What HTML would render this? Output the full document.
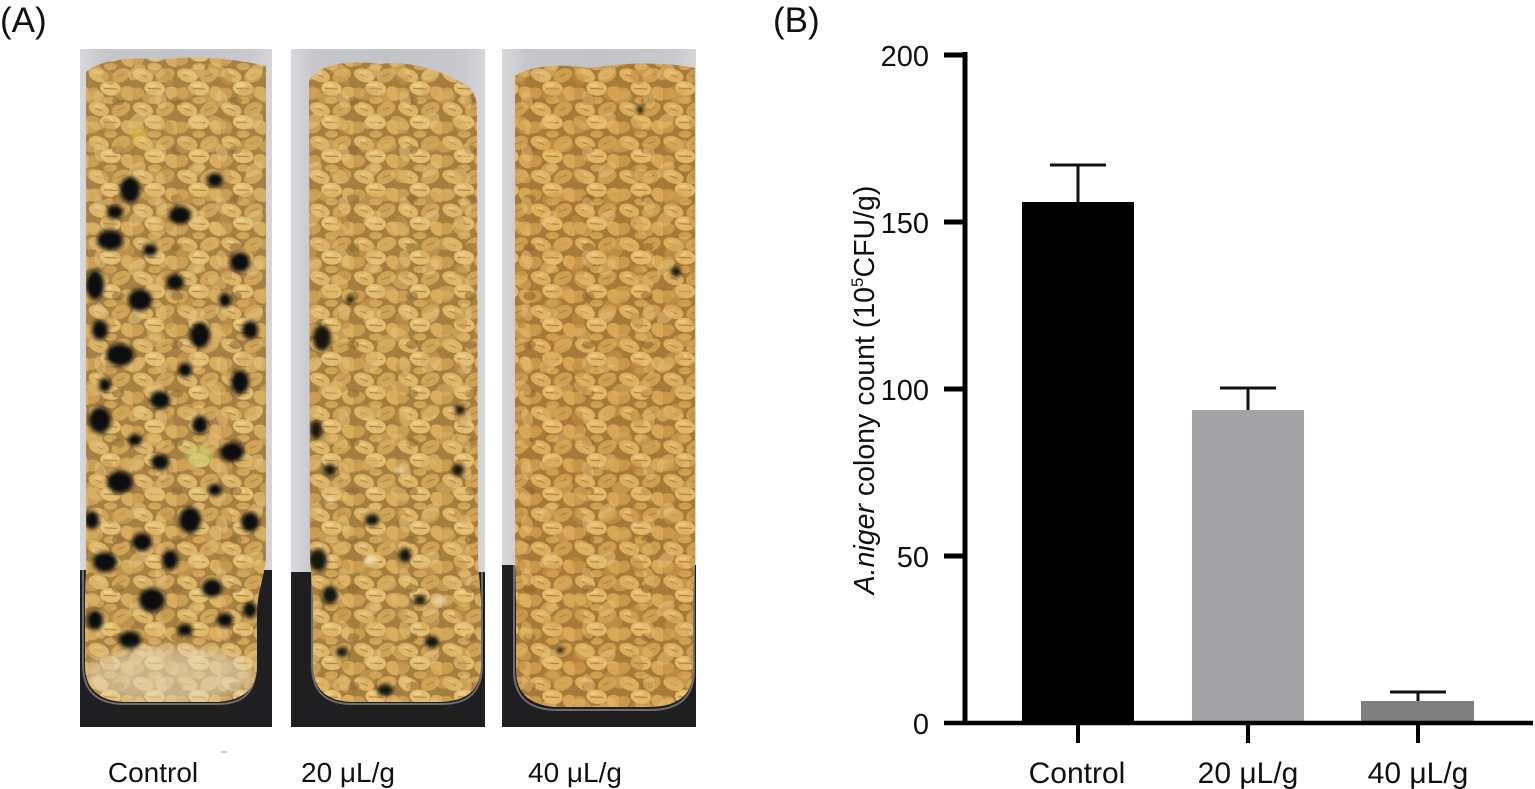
<!DOCTYPE html>
<html>
<head>
<meta charset="utf-8">
<style>
html,body{margin:0;padding:0;background:#fff;}
svg{display:block;}
text{font-family:"Liberation Sans",Arial,sans-serif;fill:#111;}
</style>
</head>
<body>
<svg width="1535" height="789" viewBox="0 0 1535 789" xmlns="http://www.w3.org/2000/svg">
<defs>
  <pattern id="gA" width="34" height="26" patternUnits="userSpaceOnUse" patternTransform="scale(1.3)">
    <rect width="34" height="26" fill="#a27a3a"/>
    <ellipse cx="8" cy="6" rx="8" ry="5" transform="rotate(20 8 6)" fill="#ddb262"/>
    <ellipse cx="25" cy="6" rx="7.5" ry="5" transform="rotate(-25 25 6)" fill="#cfa152"/>
    <ellipse cx="17" cy="16" rx="8" ry="5.5" transform="rotate(8 17 16)" fill="#e3bc6c"/>
    <ellipse cx="3" cy="20" rx="6" ry="4.5" transform="rotate(-15 3 20)" fill="#c99a4c"/>
    <ellipse cx="31" cy="20" rx="6.5" ry="5" transform="rotate(35 31 20)" fill="#d8aa58"/>
    <ellipse cx="17" cy="-1" rx="5" ry="3" fill="#d3a555"/>
    <ellipse cx="17" cy="25" rx="5" ry="2.5" fill="#cf9f50"/>
    <path d="M12 16 L22 16.5 M5 5 L11 7.5 M22 7 L28 4.5" stroke="#a97e3c" stroke-width="0.8" fill="none"/>
    <ellipse cx="15" cy="13.5" rx="3.5" ry="1.5" fill="#efd492" opacity="0.7"/>
    <ellipse cx="7" cy="4" rx="3" ry="1.3" fill="#efd08e" opacity="0.6"/>
  </pattern>
  <pattern id="gB" width="47" height="39" patternUnits="userSpaceOnUse" patternTransform="translate(7 11) scale(1.25)">
    <ellipse cx="10" cy="10" rx="8" ry="5" transform="rotate(-40 10 10)" fill="#e8c47c"/>
    <ellipse cx="34" cy="14" rx="7" ry="4.5" transform="rotate(60 34 14)" fill="#c08e44"/>
    <ellipse cx="22" cy="30" rx="8" ry="5" transform="rotate(-10 22 30)" fill="#dbae5e"/>
    <ellipse cx="42" cy="33" rx="5" ry="3.5" fill="#86632e"/>
  </pattern>
  <pattern id="gC" width="61" height="53" patternUnits="userSpaceOnUse" patternTransform="translate(19 5)">
    <ellipse cx="15" cy="12" rx="10" ry="6" transform="rotate(30 15 12)" fill="#e4bb6a"/>
    <ellipse cx="45" cy="35" rx="10" ry="6.5" transform="rotate(-20 45 35)" fill="#cfa050"/>
    <ellipse cx="20" cy="42" rx="9" ry="5.5" transform="rotate(75 20 42)" fill="#e8c27a"/>
  </pattern>
  <linearGradient id="bgG" x1="0" x2="1" y1="0" y2="0">
    <stop offset="0" stop-color="#d9d9dc"/>
    <stop offset="0.12" stop-color="#c6c7cb"/>
    <stop offset="0.5" stop-color="#c3c4c8"/>
    <stop offset="0.88" stop-color="#c8c9cd"/>
    <stop offset="1" stop-color="#d6d6d9"/>
  </linearGradient>
  <filter id="bl" x="-30%" y="-30%" width="160%" height="160%"><feGaussianBlur stdDeviation="2"/></filter>
  <filter id="bl2" x="-20%" y="-20%" width="140%" height="140%"><feGaussianBlur stdDeviation="5"/></filter>
  <clipPath id="c1"><path d="M86,72 C100,60 130,56 160,60 C190,55 232,58 266,66 L266,560 C263,580 258,592 257,610 L257,665 C257,692 240,701 215,702 L125,702 C100,701 85,690 85,665 L85,600 C85,588 86,575 86,560 Z"/></clipPath>
  <clipPath id="c2"><path d="M309,80 C322,63 350,60 380,64 C410,60 440,70 468,86 C474,92 477,98 477,110 L478,560 L481,600 L481,665 C481,692 465,701 440,702 L352,702 C327,701 313,690 313,665 L313,600 L310,560 Z"/></clipPath>
  <clipPath id="c3"><path d="M515,76 C530,66 560,63 590,68 C620,63 660,61 695,68 L695,560 L693,600 L693,670 C693,698 675,706 650,707 L558,707 C533,706 516,696 516,670 L516,600 L515,560 Z"/></clipPath>
</defs>

<!-- Panel labels -->
<text x="0" y="32" font-size="35">(A)</text>
<text x="773" y="32" font-size="35">(B)</text>

<!-- Photo panel 1 -->
<rect x="80" y="49" width="192" height="678" fill="url(#bgG)"/>
<rect x="80" y="570" width="192" height="157" fill="#1f1f21"/>
<path d="M83,570 L83,665 C83,694 100,704 125,704 L217,704 C242,704 256,694 256,665 L256,570" fill="none" stroke="#8e8e8e" stroke-width="2" opacity="0.7"/>
<g clip-path="url(#c1)">
  <rect x="80" y="49" width="192" height="678" fill="url(#gA)"/>
  <rect x="80" y="49" width="192" height="678" fill="url(#gB)" opacity="0.55"/>
  <rect x="80" y="49" width="192" height="678" fill="url(#gC)" opacity="0.5"/>
  <rect x="80" y="49" width="192" height="678" fill="#e8d8b0" opacity="0.08"/>
  <g fill="#0e0e0c" filter="url(#bl)">
    <ellipse cx="130" cy="190" rx="10" ry="13"/>
    <ellipse cx="110" cy="240" rx="13" ry="10"/>
    <ellipse cx="95" cy="285" rx="9" ry="15"/>
    <ellipse cx="180" cy="215" rx="11" ry="9"/>
    <ellipse cx="140" cy="300" rx="12" ry="11"/>
    <ellipse cx="200" cy="335" rx="10" ry="13"/>
    <ellipse cx="120" cy="355" rx="14" ry="11"/>
    <ellipse cx="240" cy="262" rx="10" ry="10"/>
    <ellipse cx="100" cy="420" rx="11" ry="13"/>
    <ellipse cx="160" cy="400" rx="10" ry="9"/>
    <ellipse cx="232" cy="452" rx="12" ry="10"/>
    <ellipse cx="120" cy="482" rx="13" ry="11"/>
    <ellipse cx="190" cy="520" rx="11" ry="13"/>
    <ellipse cx="105" cy="562" rx="12" ry="10"/>
    <ellipse cx="152" cy="600" rx="13" ry="12"/>
    <ellipse cx="212" cy="588" rx="10" ry="9"/>
    <ellipse cx="130" cy="640" rx="11" ry="9"/>
    <ellipse cx="240" cy="382" rx="9" ry="12"/>
    <ellipse cx="175" cy="282" rx="9" ry="8"/>
    <ellipse cx="215" cy="180" rx="8" ry="7"/>
    <ellipse cx="100" cy="330" rx="8" ry="10"/>
    <ellipse cx="250" cy="522" rx="9" ry="10"/>
    <ellipse cx="95" cy="620" rx="8" ry="10"/>
    <ellipse cx="160" cy="462" rx="9" ry="8"/>
    <ellipse cx="142" cy="542" rx="10" ry="9"/>
    <ellipse cx="200" cy="425" rx="8" ry="9"/>
    <ellipse cx="115" cy="212" rx="8" ry="7"/>
    <ellipse cx="250" cy="330" rx="8" ry="9"/>
    <ellipse cx="170" cy="560" rx="8" ry="10"/>
    <ellipse cx="225" cy="620" rx="8" ry="7"/>
    <ellipse cx="92" cy="520" rx="7" ry="9"/>
    <ellipse cx="185" cy="370" rx="7" ry="7"/>
    <ellipse cx="150" cy="250" rx="7" ry="6"/>
    <ellipse cx="225" cy="300" rx="6" ry="7"/>
    <ellipse cx="135" cy="440" rx="7" ry="6"/>
    <ellipse cx="215" cy="490" rx="7" ry="6"/>
    <ellipse cx="250" cy="610" rx="7" ry="8"/>
    <ellipse cx="185" cy="630" rx="8" ry="6"/>
    <ellipse cx="105" cy="385" rx="6" ry="7"/>
  </g>
  <ellipse cx="200" cy="455" rx="14" ry="10" fill="#c8d06a" opacity="0.6" filter="url(#bl)"/>
  <ellipse cx="140" cy="135" rx="9" ry="7" fill="#e8c850" opacity="0.6" filter="url(#bl)"/>
  <ellipse cx="170" cy="675" rx="85" ry="28" fill="#e6dcc4" opacity="0.55" filter="url(#bl2)"/>
</g>

<!-- Photo panel 2 -->
<rect x="291" y="49" width="194" height="678" fill="url(#bgG)"/>
<rect x="291" y="572" width="194" height="155" fill="#1f1f21"/>
<path d="M312,572 L312,665 C312,694 328,704 352,704 L442,704 C466,704 482,694 482,665 L482,572" fill="none" stroke="#8e8e8e" stroke-width="2" opacity="0.7"/>
<g clip-path="url(#c2)">
  <rect x="291" y="49" width="194" height="678" fill="url(#gA)"/>
  <rect x="291" y="49" width="194" height="678" fill="url(#gB)" opacity="0.55"/>
  <rect x="291" y="49" width="194" height="678" fill="url(#gC)" opacity="0.5"/>
  <rect x="291" y="49" width="194" height="678" fill="#e8d8b0" opacity="0.06"/>
  <g fill="#12120f" filter="url(#bl)">
    <ellipse cx="322" cy="338" rx="9" ry="13"/>
    <ellipse cx="318" cy="560" rx="9" ry="11"/>
    <ellipse cx="330" cy="595" rx="8" ry="9"/>
    <ellipse cx="372" cy="520" rx="7" ry="6"/>
    <ellipse cx="405" cy="555" rx="6" ry="7"/>
    <ellipse cx="432" cy="642" rx="7" ry="6"/>
    <ellipse cx="342" cy="652" rx="6" ry="5"/>
    <ellipse cx="316" cy="430" rx="6" ry="9"/>
    <ellipse cx="458" cy="470" rx="6" ry="6"/>
    <ellipse cx="385" cy="690" rx="8" ry="6"/>
    <ellipse cx="460" cy="410" rx="5" ry="5"/>
    <ellipse cx="350" cy="300" rx="4" ry="4"/>
    <ellipse cx="330" cy="470" rx="6" ry="6"/>
    <ellipse cx="420" cy="600" rx="6" ry="5"/>
  </g>
  <g fill="#f0ece0" opacity="0.6" filter="url(#bl)">
    <ellipse cx="370" cy="560" rx="6" ry="4"/>
    <ellipse cx="440" cy="600" rx="7" ry="4"/>
    <ellipse cx="400" cy="470" rx="5" ry="3"/>
    <ellipse cx="330" cy="500" rx="5" ry="3"/>
  </g>
</g>

<!-- Photo panel 3 -->
<rect x="502" y="49" width="194" height="678" fill="url(#bgG)"/>
<rect x="502" y="565" width="194" height="162" fill="#1f1f21"/>
<path d="M514,565 L514,670 C514,700 532,710 558,710 L650,710 C676,710 694,700 694,670 L694,565" fill="none" stroke="#8e8e8e" stroke-width="2" opacity="0.7"/>
<g clip-path="url(#c3)">
  <rect x="502" y="49" width="194" height="678" fill="url(#gA)"/>
  <rect x="502" y="49" width="194" height="678" fill="url(#gB)" opacity="0.55"/>
  <rect x="502" y="49" width="194" height="678" fill="url(#gC)" opacity="0.5"/>
  <rect x="502" y="49" width="194" height="678" fill="#d8902e" opacity="0.08"/>
  <g fill="#15130f" filter="url(#bl)">
    <ellipse cx="676" cy="272" rx="5" ry="5"/>
    <ellipse cx="640" cy="110" rx="4" ry="3"/>
    <ellipse cx="560" cy="650" rx="4" ry="3"/>
  </g>
</g>

<!-- stray mark -->
<line x1="221" y1="752" x2="227" y2="752" stroke="#bbb" stroke-width="1.5"/>

<!-- Photo labels -->
<text x="153" y="782" font-size="28" text-anchor="middle">Control</text>
<text x="348" y="782" font-size="28" text-anchor="middle">20 μL/g</text>
<text x="575" y="782" font-size="28" text-anchor="middle">40 μL/g</text>

<!-- Chart B -->
<rect x="1022" y="202" width="112" height="521" fill="#000"/>
<rect x="1192" y="410" width="112" height="313" fill="#a1a1a6"/>
<rect x="1361" y="701" width="113" height="22" fill="#7f7f7f"/>
<g stroke="#111" stroke-width="3" fill="none">
  <line x1="1078" y1="165" x2="1078" y2="203"/>
  <line x1="1050" y1="165" x2="1106" y2="165"/>
  <line x1="1248" y1="388" x2="1248" y2="410"/>
  <line x1="1220" y1="388" x2="1276" y2="388"/>
  <line x1="1418" y1="692" x2="1418" y2="701"/>
  <line x1="1390" y1="692" x2="1446" y2="692"/>
</g>
<g stroke="#000" fill="none">
  <line x1="965" y1="52" x2="965" y2="725" stroke-width="5"/>
  <line x1="944" y1="723" x2="1533" y2="723" stroke-width="4.5"/>
  <line x1="944" y1="55" x2="967" y2="55" stroke-width="5"/>
  <line x1="944" y1="222" x2="967" y2="222" stroke-width="5"/>
  <line x1="944" y1="389" x2="967" y2="389" stroke-width="5"/>
  <line x1="944" y1="556" x2="967" y2="556" stroke-width="5"/>
  <line x1="1078" y1="723" x2="1078" y2="743" stroke-width="4"/>
  <line x1="1248" y1="723" x2="1248" y2="743" stroke-width="4"/>
  <line x1="1418" y1="723" x2="1418" y2="743" stroke-width="4"/>
</g>
<g font-size="29" text-anchor="end">
  <text x="929" y="66">200</text>
  <text x="929" y="233">150</text>
  <text x="929" y="400">100</text>
  <text x="929" y="567">50</text>
  <text x="929" y="734">0</text>
</g>
<g font-size="30" text-anchor="middle">
  <text x="1077" y="783">Control</text>
  <text x="1248" y="783">20 μL/g</text>
  <text x="1418" y="783">40 μL/g</text>
</g>
<text transform="translate(874 390) rotate(-90)" font-size="28.5" text-anchor="middle"><tspan font-style="italic">A.niger</tspan> colony count (10<tspan font-size="17" dy="-11">5</tspan><tspan dy="11">CFU/g)</tspan></text>
</svg>
</body>
</html>
